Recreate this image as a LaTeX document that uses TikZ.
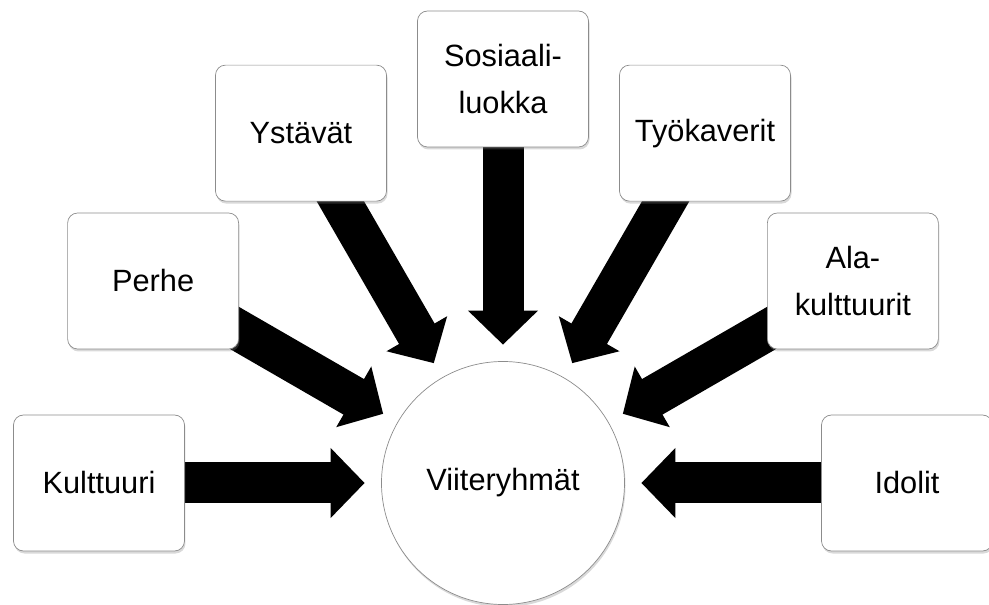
\documentclass[tikz,border=0pt]{standalone}
\usepackage{fontspec}
\setmainfont{Liberation Sans}
\usetikzlibrary{arrows.meta,shadows,backgrounds}

\begin{document}
\begin{tikzpicture}
                \tikzstyle{every node}+=[inner sep=0pt, font=\fontsize{17.5}{26.6}\selectfont]
                \tikzstyle{srcbox}=[draw=black!45, fill=white, rounded corners=0.2cm, minimum width=3.42cm, minimum height=2.72cm, align=center, drop shadow={opacity=0.3, shadow xshift=0.02cm, shadow yshift=-0.05cm}]
                \tikzstyle{hubcircle}=[circle, draw=black!45, fill=white, minimum size=4.86cm, drop shadow={opacity=0.3, shadow xshift=0.02cm, shadow yshift=-0.05cm}]
                \tikzstyle{fatarrow}=[black, line width=0.82cm, -{Triangle[length=0.68cm, width=1.36cm]}, shorten >=0.33cm]
                \useasboundingbox (-10.06,-2.44) rectangle (9.72,9.66);
                \node [hubcircle] (viite) at (0,0) {Viiteryhmät};
                \node [srcbox] (kulttuuri) at (180:8.08) {Kulttuuri};
                \node [srcbox] (perhe) at (150:8.08) {Perhe};
                \node [srcbox] (ystavat) at (120:8.08) {Ystävät};
                \node [srcbox] (sosiaali) at (90:8.08) {Sosiaali-\\luokka};
                \node [srcbox] (tyokaverit) at (60:8.08) {Työkaverit};
                \node [srcbox] (alakulttuurit) at (30:8.08) {Ala-\\kulttuurit};
                \node [srcbox] (idolit) at (0:8.08) {Idolit};
                \begin{scope}[on background layer]
                \draw [fatarrow] (kulttuuri.center) -- (viite);
                \draw [fatarrow] (perhe.center) -- (viite);
                \draw [fatarrow] (ystavat.center) -- (viite);
                \draw [fatarrow] (sosiaali.center) -- (viite);
                \draw [fatarrow] (tyokaverit.center) -- (viite);
                \draw [fatarrow] (alakulttuurit.center) -- (viite);
                \draw [fatarrow] (idolit.center) -- (viite);
                \end{scope}
            \end{tikzpicture}
\end{document}
